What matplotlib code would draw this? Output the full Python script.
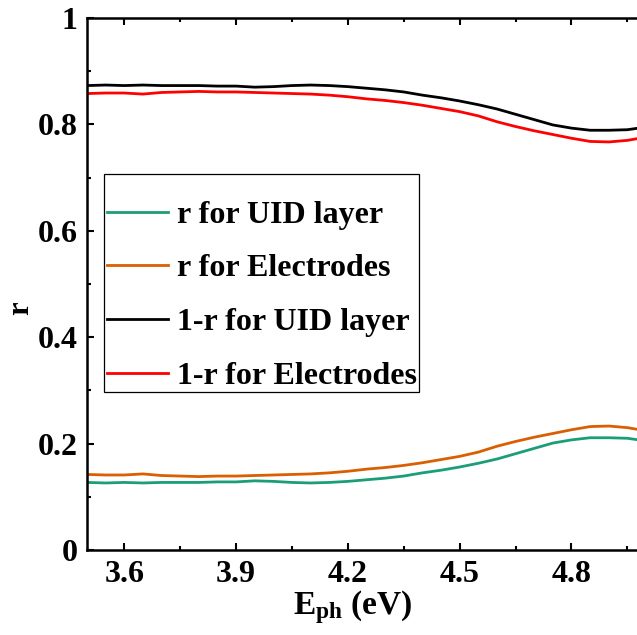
import matplotlib
matplotlib.use('Agg')
import matplotlib.pyplot as plt
import numpy as np
from matplotlib.ticker import MultipleLocator, FuncFormatter
from matplotlib.patches import Rectangle

# photon energy (eV)
e_ph = [3.50, 3.55, 3.60, 3.65, 3.70, 3.75, 3.80, 3.85, 3.90, 3.95,
        4.00, 4.05, 4.10, 4.15, 4.20, 4.25, 4.30, 4.35, 4.40, 4.45,
        4.50, 4.55, 4.60, 4.65, 4.70, 4.75, 4.80, 4.85, 4.90, 4.95, 5.00]

# reflectance r
r_uid = [0.127, 0.126, 0.127, 0.126, 0.127, 0.127, 0.127, 0.128, 0.128, 0.130,
         0.129, 0.127, 0.126, 0.127, 0.129, 0.132, 0.135, 0.139, 0.145, 0.150,
         0.156, 0.163, 0.171, 0.181, 0.191, 0.201, 0.207, 0.211, 0.211, 0.210, 0.205]
r_electrodes = [0.142, 0.141, 0.141, 0.143, 0.140, 0.139, 0.138, 0.139, 0.139, 0.140,
                0.141, 0.142, 0.143, 0.145, 0.148, 0.152, 0.155, 0.159, 0.164, 0.170,
                0.176, 0.184, 0.195, 0.204, 0.212, 0.219, 0.226, 0.232, 0.233, 0.230, 0.224]

labels = ['r for UID layer', 'r for Electrodes', '1-r for UID layer', '1-r for Electrodes']
colors = ['#1b9e77', '#d95f02', '#000000', '#ff0000']

plt.rcParams['font.family'] = 'Liberation Serif'
plt.rcParams['font.weight'] = 'bold'
plt.rcParams['mathtext.fontset'] = 'custom'
plt.rcParams['mathtext.rm'] = 'Liberation Serif:bold'
plt.rcParams['mathtext.it'] = 'Liberation Serif:bold'
plt.rcParams['mathtext.bf'] = 'Liberation Serif:bold'

x = np.array(e_ph)
series = [np.array(r_uid), np.array(r_electrodes),
          1 - np.array(r_uid), 1 - np.array(r_electrodes)]

fig = plt.figure(figsize=(6.37, 6.35), dpi=100)
ax = fig.add_axes([87 / 637, 85 / 635, 559 / 637, 532 / 635])

for y, c, lab in zip(series, colors, labels):
    ax.plot(x, y, color=c, lw=2.0, label=lab)

ax.set_xlim(3.5, 5.0)
ax.set_ylim(0, 1)
ax.xaxis.set_major_locator(MultipleLocator(0.3))
ax.xaxis.set_minor_locator(MultipleLocator(0.15))
ax.yaxis.set_major_locator(MultipleLocator(0.2))
ax.yaxis.set_minor_locator(MultipleLocator(0.1))
ax.yaxis.set_major_formatter(FuncFormatter(lambda v, p: '%g' % round(v, 2)))
ax.xaxis.set_major_formatter(FuncFormatter(lambda v, p: '%.1f' % v))

ax.tick_params(which='both', direction='in', top=True, right=True, width=1.5)
ax.tick_params(which='major', length=5, labelsize=23, pad=7)
ax.tick_params(which='minor', length=3)
for s in ax.spines.values():
    s.set_linewidth(1.8)

ax.set_xlabel('$E_{ph}$ (eV)', fontsize=24, fontweight='bold')
ax.xaxis.set_label_coords(0.476, -0.072)
ax.xaxis.label.set_va('top')
ax.set_ylabel('r', fontsize=22, fontweight='bold')
ax.yaxis.set_label_coords(-0.092, 0.455)

ax.legend(loc='upper left', bbox_to_anchor=(0.036, 0.657), frameon=False,
          prop={'size': 23, 'weight': 'bold'}, handlelength=1.9,
          handletextpad=0.28, labelspacing=0.76, borderpad=0, borderaxespad=0)
ax.add_patch(Rectangle((0.0304, 0.297), 0.5635, 0.4098, transform=ax.transAxes,
                       fill=False, ec='black', lw=0.9, zorder=5))

fig.savefig('out.png', dpi=100)
